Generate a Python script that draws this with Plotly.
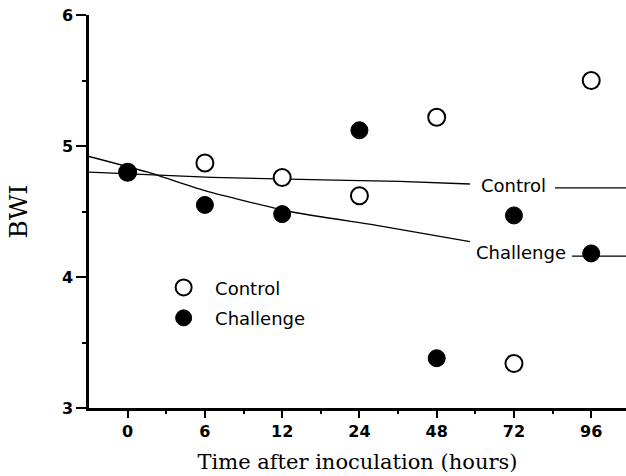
import plotly.graph_objects as go

hours = ["0", "6", "12", "24", "48", "72", "96"]
control = [4.80, 4.87, 4.76, 4.62, 5.22, 3.34, 5.50]
challenge = [4.80, 4.55, 4.48, 5.12, 3.38, 4.47, 4.18]

# fitted curves (x in category-index units)
control_fit_x = [-0.5, 1.09, 2.68, 3.52, 4.43, None, 5.53, 6.45]
control_fit_y = [4.80, 4.76, 4.74, 4.73, 4.71, None, 4.68, 4.68]
challenge_fit_x = [-0.5, 0.26, 1.0, 2.10, 3.26, 4.43, None, 5.75, 6.45]
challenge_fit_y = [4.92, 4.80, 4.66, 4.50, 4.39, 4.27, None, 4.16, 4.16]

idx = list(range(len(hours)))
sans = "DejaVu Sans, Verdana, sans-serif"
serif = "DejaVu Serif, Liberation Serif, serif"

fig = go.Figure()
fig.add_trace(go.Scatter(x=control_fit_x, y=control_fit_y, mode="lines",
                         line=dict(color="black", width=1.3), showlegend=False,
                         hoverinfo="skip"))
fig.add_trace(go.Scatter(x=challenge_fit_x, y=challenge_fit_y, mode="lines",
                         line=dict(color="black", width=1.3, shape="spline",
                                   smoothing=0.6),
                         showlegend=False, hoverinfo="skip"))
fig.add_trace(go.Scatter(x=idx, y=control, mode="markers",
                         name="\u00a0\u00a0Control", legendgroup="a",
                         marker=dict(symbol="circle", size=17, color="white",
                                     line=dict(color="black", width=2))))
fig.add_trace(go.Scatter(x=idx, y=challenge, mode="markers",
                         name="\u00a0\u00a0Challenge", legendgroup="b",
                         marker=dict(symbol="circle", size=17, color="black",
                                     line=dict(color="black", width=1))))

fig.add_annotation(x=5.0, y=4.70, text="Control", showarrow=False,
                   font=dict(family=sans, size=18, color="black"))
fig.add_annotation(x=5.09, y=4.19, text="Challenge", showarrow=False,
                   font=dict(family=sans, size=18, color="black"))

fig.update_layout(
    width=626, height=476,
    margin=dict(l=89, r=0, t=15, b=68),
    paper_bgcolor="white", plot_bgcolor="white",
    font=dict(family=sans, color="black"),
    legend=dict(x=0.139, y=0.353, xanchor="left", yanchor="top",
                bgcolor="rgba(0,0,0,0)", font=dict(family=sans, size=18),
                tracegroupgap=4, itemsizing="trace"),
)
fig.update_xaxes(
    range=[-0.5, 6.45], tickmode="array", tickvals=idx, ticktext=hours,
    automargin=False,
    showgrid=False, zeroline=False, showline=True, linecolor="black", linewidth=2.5,
    ticks="outside", ticklen=7, tickwidth=2, tickcolor="black",
    tickfont=dict(family=sans, size=16, color="black", weight="bold"),
    minor=dict(tickmode="array", tickvals=[i + 0.5 for i in idx[:-1]],
               ticks="outside", ticklen=3, tickwidth=1.5, tickcolor="black"),
    title=dict(text="Time after inoculation (hours)",
               font=dict(family=serif, size=21, color="black"), standoff=15),
)
fig.update_yaxes(
    range=[3, 6], tickvals=[3, 4, 5, 6], automargin=False,
    showgrid=False, zeroline=False, showline=True, linecolor="black", linewidth=2.5,
    ticks="outside", ticklen=10, tickwidth=2, tickcolor="black",
    tickfont=dict(family=sans, size=16, color="black", weight="bold"),
    minor=dict(tickvals=[3.5, 4.5, 5.5], ticks="outside", ticklen=4,
               tickwidth=1.5, tickcolor="black"),
    title=dict(text="BWI", font=dict(family=serif, size=25, color="black"),
               standoff=28),
)

fig.write_html("out.html", config={"displayModeBar": False},
               post_script="document.body.style.margin='0';")
